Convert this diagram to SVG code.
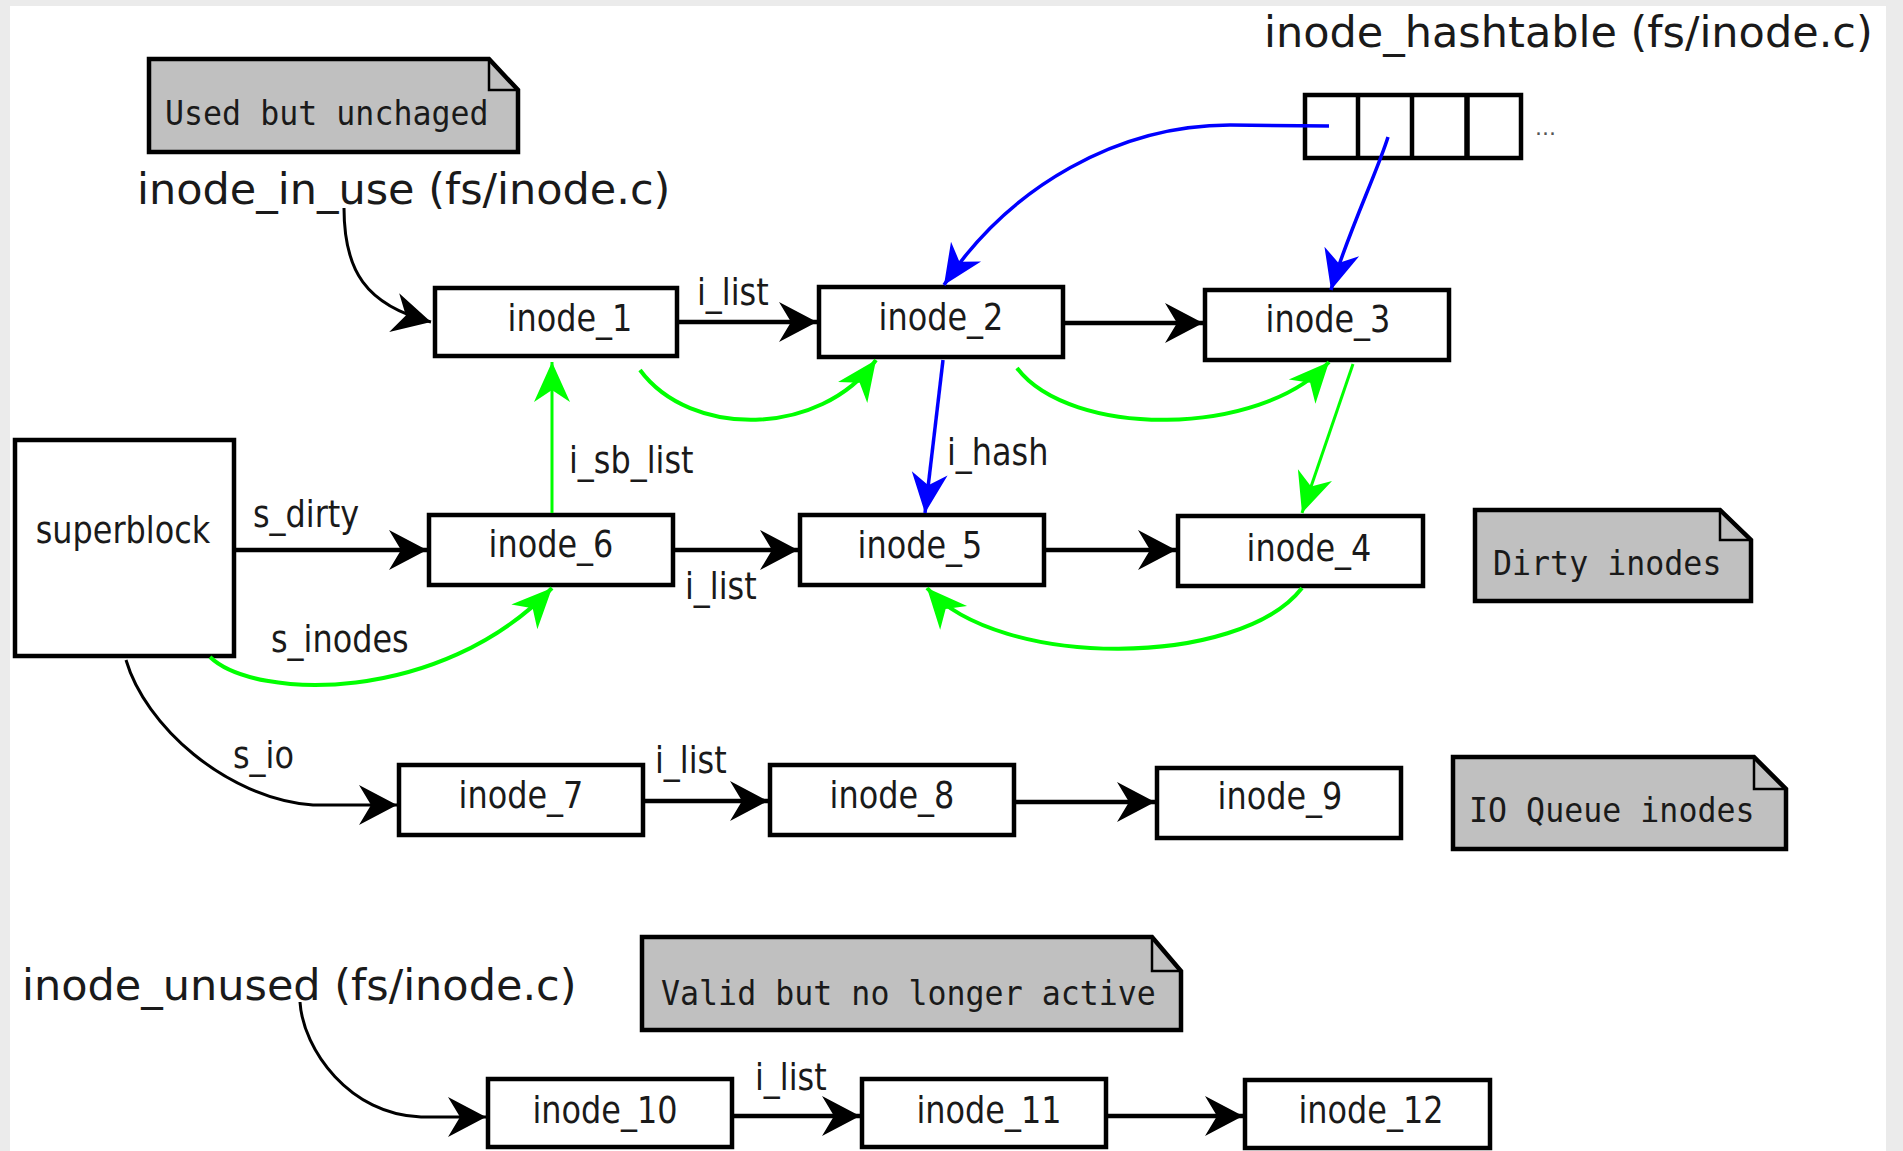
<svg xmlns="http://www.w3.org/2000/svg" width="1903" height="1151" viewBox="0 0 1903 1151">
  <style>
    .box { fill: #ffffff; stroke: #000000; stroke-width: 4.5; }
    .note { fill: #c0c0c0; stroke: #000000; stroke-width: 4.5; stroke-linejoin: miter; }
    .fold { fill: none; stroke: #000000; stroke-width: 2.5; }
    .lbl { font-family: "DejaVu Sans", "Liberation Sans", sans-serif; font-size: 38px; fill: #1a1a1a; }
    .mid { text-anchor: middle; }
    .title { font-family: "DejaVu Sans", "Liberation Sans", sans-serif; font-size: 43px; fill: #1a1a1a; }
    .mono { font-family: "DejaVu Sans Mono", "Liberation Mono", monospace; font-size: 34px; fill: #1a1a1a; }
    .k { fill: none; stroke: #000000; stroke-width: 4.5; }
    .kt { fill: none; stroke: #000000; stroke-width: 3; }
    .b { fill: none; stroke: #0000ff; stroke-width: 3.5; }
    .g { fill: none; stroke: #00ff00; stroke-width: 4; }
    .gt { fill: none; stroke: #00ff00; stroke-width: 3; }
  </style>
  <defs>
    <marker id="ak" markerUnits="userSpaceOnUse" markerWidth="60" markerHeight="60" refX="0" refY="0" orient="auto" overflow="visible">
      <path d="M0,0 L-38,-20 L-26,0 L-38,20 Z" fill="#000000"/>
    </marker>
    <marker id="ab" markerUnits="userSpaceOnUse" markerWidth="60" markerHeight="60" refX="0" refY="0" orient="auto" overflow="visible">
      <path d="M0,0 L-40,-18 L-28,0 L-40,18 Z" fill="#0000ff"/>
    </marker>
    <marker id="ag" markerUnits="userSpaceOnUse" markerWidth="60" markerHeight="60" refX="0" refY="0" orient="auto" overflow="visible">
      <path d="M0,0 L-40,-18 L-28,0 L-40,18 Z" fill="#00ff00"/>
    </marker>
  </defs>

  <!-- page -->
  <rect x="0" y="0" width="1903" height="1151" fill="#ebebeb"/>
  <rect x="10" y="6" width="1876" height="1145" fill="#ffffff"/>

  <!-- list heads -->
  <g id="head-inode-in-use">
    <text class="title" x="137" y="204">inode_in_use (fs/inode.c)</text>
  </g>
  <g id="head-inode-hashtable">
    <text class="title" x="1264" y="47">inode_hashtable (fs/inode.c)</text>
    <rect x="1305" y="95" width="216" height="63" fill="#ffffff" stroke="#000000" stroke-width="4.5"/>
    <line x1="1358" y1="95" x2="1358" y2="158" stroke="#000000" stroke-width="4.5"/>
    <line x1="1412" y1="95" x2="1412" y2="158" stroke="#000000" stroke-width="4.5"/>
    <line x1="1467" y1="95" x2="1467" y2="158" stroke="#000000" stroke-width="5.5"/>
    <text x="1535" y="135" font-family="DejaVu Sans, sans-serif" font-size="22" fill="#555555">...</text>
  </g>
  <g id="head-inode-unused">
    <text class="title" x="22" y="1000">inode_unused (fs/inode.c)</text>
  </g>

  <!-- notes -->
  <g id="note-used">
    <path class="note" d="M149,59 L489,59 L518,90 L518,152 L149,152 Z"/>
    <path class="fold" d="M489,59 L489,90 L518,90"/>
    <text class="mono" transform="translate(165,125) scale(0.93,1)">Used but unchaged</text>
  </g>
  <g id="note-dirty">
    <path class="note" d="M1475,510 L1720,510 L1751,540 L1751,601 L1475,601 Z"/>
    <path class="fold" d="M1720,510 L1720,540 L1751,540"/>
    <text class="mono" transform="translate(1493,575) scale(0.93,1)">Dirty inodes</text>
  </g>
  <g id="note-io">
    <path class="note" d="M1453,757 L1754,757 L1786,789 L1786,849 L1453,849 Z"/>
    <path class="fold" d="M1754,757 L1754,789 L1786,789"/>
    <text class="mono" transform="translate(1469,822) scale(0.93,1)">IO Queue inodes</text>
  </g>
  <g id="note-unused">
    <path class="note" d="M642,937 L1152,937 L1181,971 L1181,1030 L642,1030 Z"/>
    <path class="fold" d="M1152,937 L1152,971 L1181,971"/>
    <text class="mono" transform="translate(661,1005) scale(0.93,1)">Valid but no longer active</text>
  </g>

  <!-- superblock -->
  <g id="superblock">
    <rect class="box" x="15" y="440" width="219" height="216"/>
    <text class="lbl mid" transform="translate(123,543) scale(0.84,1)">superblock</text>
  </g>

  <!-- inodes -->
  <g id="inode_1">
    <rect class="box" x="435" y="288" width="242" height="68"/>
    <text class="lbl mid" transform="translate(570,331) scale(0.84,1)">inode_1</text>
  </g>
  <g id="inode_2">
    <rect class="box" x="819" y="287" width="244" height="70"/>
    <text class="lbl mid" transform="translate(941,330) scale(0.84,1)">inode_2</text>
  </g>
  <g id="inode_3">
    <rect class="box" x="1205" y="290" width="244" height="70"/>
    <text class="lbl mid" transform="translate(1328,332) scale(0.84,1)">inode_3</text>
  </g>
  <g id="inode_6">
    <rect class="box" x="429" y="515" width="244" height="70"/>
    <text class="lbl mid" transform="translate(551,557) scale(0.84,1)">inode_6</text>
  </g>
  <g id="inode_5">
    <rect class="box" x="800" y="515" width="244" height="70"/>
    <text class="lbl mid" transform="translate(920,558) scale(0.84,1)">inode_5</text>
  </g>
  <g id="inode_4">
    <rect class="box" x="1178" y="516" width="245" height="70"/>
    <text class="lbl mid" transform="translate(1309,561) scale(0.84,1)">inode_4</text>
  </g>
  <g id="inode_7">
    <rect class="box" x="399" y="765" width="244" height="70"/>
    <text class="lbl mid" transform="translate(521,808) scale(0.84,1)">inode_7</text>
  </g>
  <g id="inode_8">
    <rect class="box" x="770" y="765" width="244" height="70"/>
    <text class="lbl mid" transform="translate(892,808) scale(0.84,1)">inode_8</text>
  </g>
  <g id="inode_9">
    <rect class="box" x="1157" y="768" width="244" height="70"/>
    <text class="lbl mid" transform="translate(1280,809) scale(0.84,1)">inode_9</text>
  </g>
  <g id="inode_10">
    <rect class="box" x="488" y="1079" width="244" height="68"/>
    <text class="lbl mid" transform="translate(605,1123) scale(0.84,1)">inode_10</text>
  </g>
  <g id="inode_11">
    <rect class="box" x="862" y="1079" width="244" height="68"/>
    <text class="lbl mid" transform="translate(989,1123) scale(0.84,1)">inode_11</text>
  </g>
  <g id="inode_12">
    <rect class="box" x="1245" y="1080" width="245" height="68"/>
    <text class="lbl mid" transform="translate(1371,1123) scale(0.84,1)">inode_12</text>
  </g>

  <!-- connectors -->
  <g id="connectors">
    <!-- i_list chains -->
    <path class="kt" d="M344,208 C344,270 365,305 431,322" marker-end="url(#ak)"/>
    <path class="k" d="M679,322 L817,322" marker-end="url(#ak)"/>
    <path class="k" d="M1065,323 L1203,323" marker-end="url(#ak)"/>

    <path class="k" d="M236,550 L427,550" marker-end="url(#ak)"/>
    <path class="k" d="M675,550 L798,550" marker-end="url(#ak)"/>
    <path class="k" d="M1046,550 L1176,550" marker-end="url(#ak)"/>

    <path class="kt" d="M126,660 C145,725 225,798 313,805 L397,805" marker-end="url(#ak)"/>
    <path class="k" d="M645,801 L768,801" marker-end="url(#ak)"/>
    <path class="k" d="M1016,802 L1155,802" marker-end="url(#ak)"/>

    <path class="kt" d="M300,1002 C303,1050 350,1115 421,1117 L486,1117" marker-end="url(#ak)"/>
    <path class="k" d="M734,1116 L860,1116" marker-end="url(#ak)"/>
    <path class="k" d="M1108,1116 L1243,1116" marker-end="url(#ak)"/>

    <!-- i_hash chains -->
    <path class="b" stroke-width="5" d="M1329,126 L1230,125 C1120,125 1010,185 944,285" marker-end="url(#ab)"/>
    <path class="b" d="M1388,137 C1378,170 1345,240 1331,290" marker-end="url(#ab)"/>
    <path class="b" d="M943,360 L925,513" marker-end="url(#ab)"/>

    <!-- i_sb_list chain -->
    <path class="g" d="M210,657 C255,700 440,705 552,588" marker-end="url(#ag)"/>
    <path class="gt" d="M552,513 L552,362" marker-end="url(#ag)"/>
    <path class="g" d="M640,370 C690,438 820,438 876,360" marker-end="url(#ag)"/>
    <path class="g" d="M1017,368 C1070,438 1260,438 1329,362" marker-end="url(#ag)"/>
    <path class="gt" d="M1353,364 L1302,513" marker-end="url(#ag)"/>
    <path class="g" d="M1302,588 C1240,668 1000,670 927,588" marker-end="url(#ag)"/>

    <!-- connector labels -->
    <text class="lbl" transform="translate(697,305) scale(0.84,1)">i_list</text>
    <text class="lbl" transform="translate(253,527) scale(0.84,1)">s_dirty</text>
    <text class="lbl" transform="translate(271,652) scale(0.84,1)">s_inodes</text>
    <text class="lbl" transform="translate(569,473) scale(0.84,1)">i_sb_list</text>
    <text class="lbl" transform="translate(947,465) scale(0.84,1)">i_hash</text>
    <text class="lbl" transform="translate(685,599) scale(0.84,1)">i_list</text>
    <text class="lbl" transform="translate(233,768) scale(0.84,1)">s_io</text>
    <text class="lbl" transform="translate(655,773) scale(0.84,1)">i_list</text>
    <text class="lbl" transform="translate(755,1090) scale(0.84,1)">i_list</text>
  </g>
</svg>
